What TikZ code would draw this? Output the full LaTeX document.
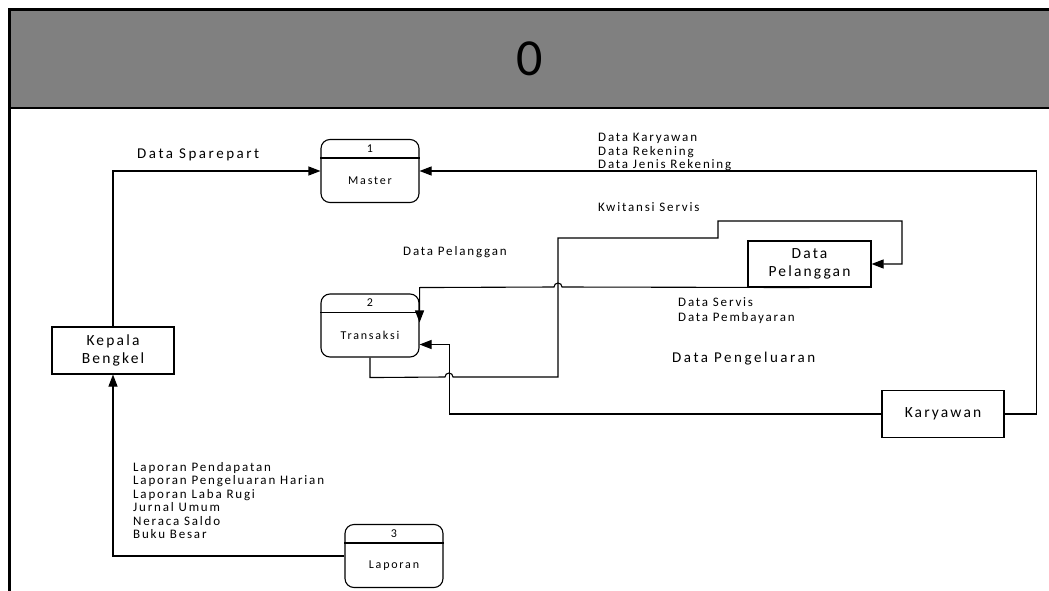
\documentclass[tikz,border=0pt]{standalone}
\usepackage{fontspec}
\setmainfont{Carlito}
\newfontfamily\lblfont[LetterSpace=14]{Carlito}
\newfontfamily\biglblfont[LetterSpace=17]{Carlito}
\newfontfamily\procfont[LetterSpace=15]{Carlito}
\newfontfamily\boxfont[LetterSpace=14]{Carlito}
\usetikzlibrary{arrows.meta, calc}
\tikzset{
  Arrow1/.style = {
    draw, line width=1.1pt,
    -{Triangle[length = 12pt, width = 9pt]},
  },
  lbl/.style = {inner sep=0pt, anchor=west, align=left,
    font=\lblfont\fontsize{13}{13.5}\selectfont},
  biglbl/.style = {inner sep=0pt, anchor=west,
    font=\biglblfont\fontsize{15}{16}\selectfont},
  ent/.style = {draw, line width=1.1pt, minimum width=122pt, minimum height=47pt,
    align=center, font=\boxfont\fontsize{15.5}{18}\selectfont},
  proc/.style = {draw, line width=1.1pt, rounded corners=9pt,
    minimum width=98pt, minimum height=63pt, inner sep=0pt},
  proctext/.style = {inner sep=0pt, font=\procfont\fontsize{12}{13}\selectfont},
}
% process box: name, position, number, label
\newcommand{\procnode}[4]{%
  \node[proc] (#1) at #2 {};
  \draw[line width=1.1pt] ($(#1.north west)+(0,19)$) -- ($(#1.north east)+(0,19)$);
  \node[proctext] (#1num) at ($(#1.north)+(0,9.5)$) {#3};
  \node[proctext] (#1lbl) at ($(#1.center)+(0,9.5)$) {#4};
}

\begin{document}
\begin{tikzpicture}[x=1pt, y=-1pt]
  \useasboundingbox (0,0) rectangle (1049,591);
  % header
  \node[fill=gray, minimum width=1039pt, minimum height=98pt, inner sep=0pt,
    font=\fontsize{52}{60}\selectfont] (hdr) at (529.5,59) {0};
  \draw[line width=3pt] (9,591) -- (9,10) -- (1049,10);
  \draw[line width=2.2pt] (9,108) -- (1049,108);

  % processes
  \procnode{mst}{(370,171)}{1}{Master}
  \procnode{trx}{(370,325.5)}{2}{Transaksi}
  \procnode{lap}{(394,556)}{3}{Laporan}

  % entities
  \node[ent] (kb) at (113,350.5) {Kepala\\Bengkel};
  \node[ent, minimum width=123pt, minimum height=46pt] (dp) at (809.5,264) {Data\\Pelanggan};
  \node[ent] (kar) at (943,414) {Karyawan};

  % flows
  \draw[Arrow1] (kb.north) |- (mst.west);
  \draw[Arrow1] (kar.east) -- ++(32,0) |- (mst.east);
  \draw[Arrow1] (lap.west) -| (kb.south);
  \coordinate (pgl) at ($(trx.east)+(0,19)$);
  \draw[Arrow1] (kar.west) -| ($(pgl)+(30,0)$) -- (pgl);
  \coordinate (plg) at ($(trx.north east)+(0,29)$);
  \draw[Arrow1] (dp.south) -- (562,287) arc[start angle=0, end angle=-180, radius=4]
    -- (plg |- dp.south) -- (plg);
  \draw[Arrow1] (trx.south) -- ++(0,20) -- (445,377)
    arc[start angle=180, end angle=360, radius=4]
    -- (558,377) -- (558,238) -- (718,238) -- (718,221) -- (902,221) |- (dp.east);

  % labels
  \node[biglbl] (tsp) at (137,155) {Data Sparepart};
  \node[lbl] (tkar) at (598,152) {Data Karyawan\\Data Rekening\\Data Jenis Rekening};
  \node[lbl] (tkw) at (598,207) {Kwitansi Servis};
  \node[lbl] (tplg) at (403,252) {Data Pelanggan};
  \node[lbl, font=\lblfont\fontsize{13}{15}\selectfont] (tsrv) at (678,310.5) {Data Servis\\Data Pembayaran};
  \node[biglbl] (tpgl) at (672,359) {Data Pengeluaran};
  \node[lbl] (tlap) at (133,500.5) {Laporan Pendapatan\\Laporan Pengeluaran Harian\\Laporan Laba Rugi\\Jurnal Umum\\Neraca Saldo\\Buku Besar};
\end{tikzpicture}
\end{document}
